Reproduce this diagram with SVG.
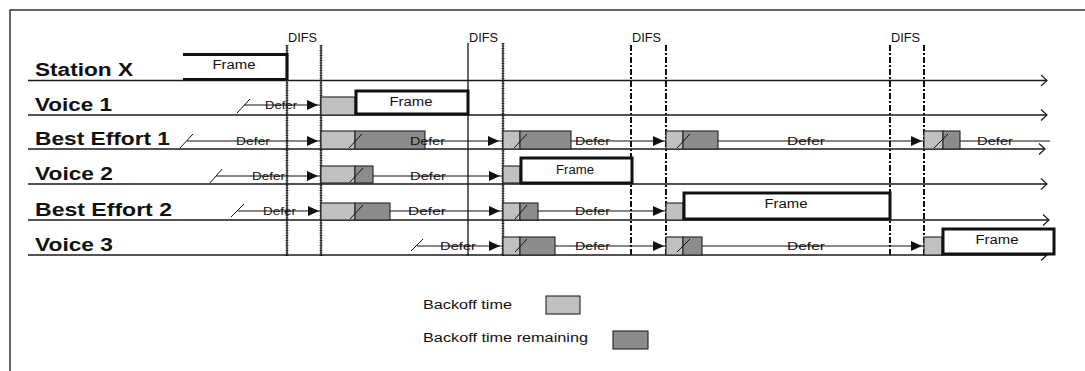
<svg xmlns="http://www.w3.org/2000/svg" width="1085" height="371" viewBox="0 0 1085 371">
<defs>
<style>
.bg{fill:#fff}
.border{fill:none;stroke:#333;stroke-width:1.5}
.base{stroke:#1a1a1a;stroke-width:1.4;fill:none}
.chev{stroke:#1a1a1a;stroke-width:1.2;fill:none}
.dline{stroke:#111;stroke-width:1.2;fill:none}
.lbl{font-family:"Liberation Sans",Arial,sans-serif;font-weight:bold;font-size:18px;fill:#111}
.sm{font-family:"Liberation Sans",Arial,sans-serif;font-size:11px;fill:#111}
.fr{font-family:"Liberation Sans",Arial,sans-serif;font-size:12px;fill:#111;text-anchor:middle}
.difs{font-family:"Liberation Sans",Arial,sans-serif;font-size:12px;fill:#111}
.lg{font-family:"Liberation Sans",Arial,sans-serif;font-size:12px;fill:#111}
.light{fill:#c0c0c0;stroke:#222;stroke-width:1.1}
.dark{fill:#8c8c8c;stroke:#222;stroke-width:1.1}
.frame{fill:#fff;stroke:#111;stroke-width:3}
.slash{stroke:#111;stroke-width:1;fill:none}
.tri{fill:#111}
.vsolid{stroke:#111;stroke-width:1.3}
.vtick{stroke:#555;stroke-width:3;stroke-dasharray:1 1.5}
.vdash{stroke:#111;stroke-width:2;stroke-dasharray:6 2 2 2}
</style>
</defs>
<rect class="bg" x="0" y="0" width="1085" height="371"/>
<rect class="border" x="10" y="10" width="1100" height="400"/>

<g id="difs-markers">
  <text class="difs" x="288" y="42" textLength="29" lengthAdjust="spacingAndGlyphs">DIFS</text>
  <text class="difs" x="469" y="42" textLength="29" lengthAdjust="spacingAndGlyphs">DIFS</text>
  <text class="difs" x="632" y="42" textLength="29" lengthAdjust="spacingAndGlyphs">DIFS</text>
  <text class="difs" x="891" y="42" textLength="29" lengthAdjust="spacingAndGlyphs">DIFS</text>
  <line class="vtick" x1="287" y1="45" x2="287" y2="256"/>
  <line class="vsolid" x1="287" y1="45" x2="287" y2="256"/>
  <line class="vtick" x1="321" y1="45" x2="321" y2="256"/>
  <line class="vsolid" x1="321" y1="45" x2="321" y2="256"/>
  <line class="vsolid" x1="468" y1="43" x2="468" y2="256"/>
  <line class="vtick" x1="503" y1="43" x2="503" y2="256"/>
  <line class="vsolid" x1="503" y1="43" x2="503" y2="256"/>
  <line class="vdash" x1="631" y1="45" x2="631" y2="256"/>
  <line class="vdash" x1="666" y1="45" x2="666" y2="256"/>
  <line class="vdash" x1="890" y1="45" x2="890" y2="256"/>
  <line class="vdash" x1="924" y1="45" x2="924" y2="256"/>
</g>

<g id="connectors">
  <line class="base" x1="28" y1="80.5" x2="1047" y2="80.5"/>
  <polyline class="chev" points="1041,75 1047,80.5 1041,86"/>
  <line class="base" x1="28" y1="115" x2="1047" y2="115"/>
  <polyline class="chev" points="1041,109.5 1047,115 1041,120.5"/>
  <line class="base" x1="28" y1="149" x2="1045" y2="149"/>
  <polyline class="chev" points="1039,143.5 1045,149 1039,154.5"/>
  <line class="base" x1="28" y1="184" x2="1047" y2="184"/>
  <polyline class="chev" points="1041,178.5 1047,184 1041,189.5"/>
  <line class="base" x1="28" y1="220" x2="1049" y2="220"/>
  <polyline class="chev" points="1043,214.5 1049,220 1043,225.5"/>
  <line class="base" x1="28" y1="255" x2="1047" y2="255"/>
  <polyline class="chev" points="1041,249.5 1047,255 1041,260.5"/>
  <!-- defer lines -->
  <line class="dline" x1="244" y1="105" x2="321" y2="105"/>
  <line class="dline" x1="187" y1="141" x2="1050" y2="141"/>
  <line class="dline" x1="216" y1="176" x2="503" y2="176"/>
  <line class="dline" x1="238" y1="211" x2="666" y2="211"/>
  <line class="dline" x1="417" y1="246" x2="924" y2="246"/>
  <!-- start slashes -->
  <line class="slash" x1="237" y1="113" x2="250" y2="99"/>
  <line class="slash" x1="180" y1="148" x2="193" y2="134"/>
  <line class="slash" x1="210" y1="183" x2="222" y2="169"/>
  <line class="slash" x1="231" y1="217" x2="244" y2="204"/>
  <line class="slash" x1="411" y1="251" x2="423" y2="239"/>
  <!-- arrow triangles -->
  <polygon class="tri" points="307,100 318,105 307,110"/>
  <polygon class="tri" points="307,136 318,141 307,146"/>
  <polygon class="tri" points="488,136 499,141 488,146"/>
  <polygon class="tri" points="653,136 664,141 653,146"/>
  <polygon class="tri" points="911,136 922,141 911,146"/>
  <polygon class="tri" points="307,171 318,176 307,181"/>
  <polygon class="tri" points="489,171 500,176 489,181"/>
  <polygon class="tri" points="308,206 319,211 308,216"/>
  <polygon class="tri" points="489,206 500,211 489,216"/>
  <polygon class="tri" points="653,206 664,211 653,216"/>
  <polygon class="tri" points="489,241 500,246 489,251"/>
  <polygon class="tri" points="653,241 664,246 653,251"/>
  <polygon class="tri" points="911,241 922,246 911,251"/>
</g>

<g id="station-x">
  <text class="lbl" x="35" y="76" textLength="98" lengthAdjust="spacingAndGlyphs">Station X</text>
  <polyline points="183,54.5 287,54.5 287,79.5 183,79.5" fill="none" stroke="#111" stroke-width="3"/>
  <text class="fr" x="234" y="69" textLength="43" lengthAdjust="spacingAndGlyphs">Frame</text>
</g>

<g id="voice-1">
  <text class="lbl" x="35" y="111" textLength="77" lengthAdjust="spacingAndGlyphs">Voice 1</text>
  <text class="sm" x="265" y="109" textLength="32" lengthAdjust="spacingAndGlyphs">Defer</text>
  <rect class="light" x="321" y="97" width="34" height="18"/>
  <rect class="frame" x="356" y="91" width="112" height="23"/>
  <text class="fr" x="411" y="106" textLength="43" lengthAdjust="spacingAndGlyphs">Frame</text>
</g>

<g id="best-effort-1">
  <text class="lbl" x="35" y="145" textLength="135" lengthAdjust="spacingAndGlyphs">Best Effort 1</text>
  <text class="sm" x="236" y="145" textLength="34" lengthAdjust="spacingAndGlyphs">Defer</text>
  <rect class="light" x="321" y="131" width="34" height="18"/>
  <rect class="dark" x="355" y="131" width="70" height="18"/>
  <line class="slash" x1="349" y1="148" x2="362" y2="134"/>
  <text class="sm" x="410" y="145" textLength="35" lengthAdjust="spacingAndGlyphs">Defer</text>
  <rect class="light" x="503" y="131" width="17" height="18"/>
  <rect class="dark" x="520" y="131" width="51" height="18"/>
  <line class="slash" x1="514" y1="148" x2="527" y2="134"/>
  <text class="sm" x="575" y="145" textLength="35" lengthAdjust="spacingAndGlyphs">Defer</text>
  <rect class="light" x="666" y="131" width="17" height="18"/>
  <rect class="dark" x="683" y="131" width="35" height="18"/>
  <line class="slash" x1="677" y1="148" x2="690" y2="134"/>
  <text class="sm" x="787" y="145" textLength="38" lengthAdjust="spacingAndGlyphs">Defer</text>
  <rect class="light" x="924" y="131" width="19" height="18"/>
  <rect class="dark" x="943" y="131" width="17" height="18"/>
  <line class="slash" x1="934" y1="148" x2="948" y2="134"/>
  <text class="sm" x="977" y="145" textLength="36" lengthAdjust="spacingAndGlyphs">Defer</text>
</g>

<g id="voice-2">
  <text class="lbl" x="35" y="180" textLength="78" lengthAdjust="spacingAndGlyphs">Voice 2</text>
  <text class="sm" x="252" y="180" textLength="33" lengthAdjust="spacingAndGlyphs">Defer</text>
  <rect class="light" x="321" y="166" width="34" height="17"/>
  <rect class="dark" x="355" y="166" width="18" height="17"/>
  <line class="slash" x1="350" y1="182" x2="363" y2="168"/>
  <text class="sm" x="410" y="180" textLength="36" lengthAdjust="spacingAndGlyphs">Defer</text>
  <rect class="light" x="503" y="166" width="17" height="17"/>
  <rect class="frame" x="521" y="158" width="111" height="25"/>
  <text class="fr" x="575" y="174" textLength="38" lengthAdjust="spacingAndGlyphs">Frame</text>
</g>

<g id="best-effort-2">
  <text class="lbl" x="35" y="216" textLength="137" lengthAdjust="spacingAndGlyphs">Best Effort 2</text>
  <text class="sm" x="263" y="215" textLength="33" lengthAdjust="spacingAndGlyphs">Defer</text>
  <rect class="light" x="321" y="203" width="34" height="17"/>
  <rect class="dark" x="355" y="203" width="35" height="17"/>
  <line class="slash" x1="350" y1="219" x2="363" y2="205"/>
  <text class="sm" x="408" y="215" textLength="38" lengthAdjust="spacingAndGlyphs">Defer</text>
  <rect class="light" x="503" y="203" width="17" height="17"/>
  <rect class="dark" x="520" y="203" width="18" height="17"/>
  <line class="slash" x1="515" y1="219" x2="527" y2="205"/>
  <text class="sm" x="575" y="215" textLength="35" lengthAdjust="spacingAndGlyphs">Defer</text>
  <rect class="light" x="666" y="203" width="17" height="17"/>
  <rect class="frame" x="684" y="193" width="206" height="26"/>
  <text class="fr" x="786" y="208" textLength="43" lengthAdjust="spacingAndGlyphs">Frame</text>
</g>

<g id="voice-3">
  <text class="lbl" x="35" y="251" textLength="78" lengthAdjust="spacingAndGlyphs">Voice 3</text>
  <text class="sm" x="440" y="250" textLength="36" lengthAdjust="spacingAndGlyphs">Defer</text>
  <rect class="light" x="503" y="237" width="17" height="18"/>
  <rect class="dark" x="520" y="237" width="35" height="18"/>
  <line class="slash" x1="515" y1="252" x2="527" y2="239"/>
  <text class="sm" x="575" y="250" textLength="35" lengthAdjust="spacingAndGlyphs">Defer</text>
  <rect class="light" x="666" y="237" width="17" height="18"/>
  <rect class="dark" x="683" y="237" width="19" height="18"/>
  <line class="slash" x1="677" y1="252" x2="690" y2="239"/>
  <text class="sm" x="787" y="250" textLength="38" lengthAdjust="spacingAndGlyphs">Defer</text>
  <rect class="light" x="924" y="237" width="18" height="18"/>
  <rect class="frame" x="943" y="229" width="111" height="25"/>
  <text class="fr" x="997" y="244" textLength="43" lengthAdjust="spacingAndGlyphs">Frame</text>
</g>

<g id="legend">
  <text class="lg" x="423" y="309" textLength="89" lengthAdjust="spacingAndGlyphs">Backoff time</text>
  <rect class="light" x="546" y="296" width="34" height="18"/>
  <text class="lg" x="423" y="342" textLength="165" lengthAdjust="spacingAndGlyphs">Backoff time remaining</text>
  <rect class="dark" x="613" y="331" width="35" height="18"/>
</g>
</svg>
